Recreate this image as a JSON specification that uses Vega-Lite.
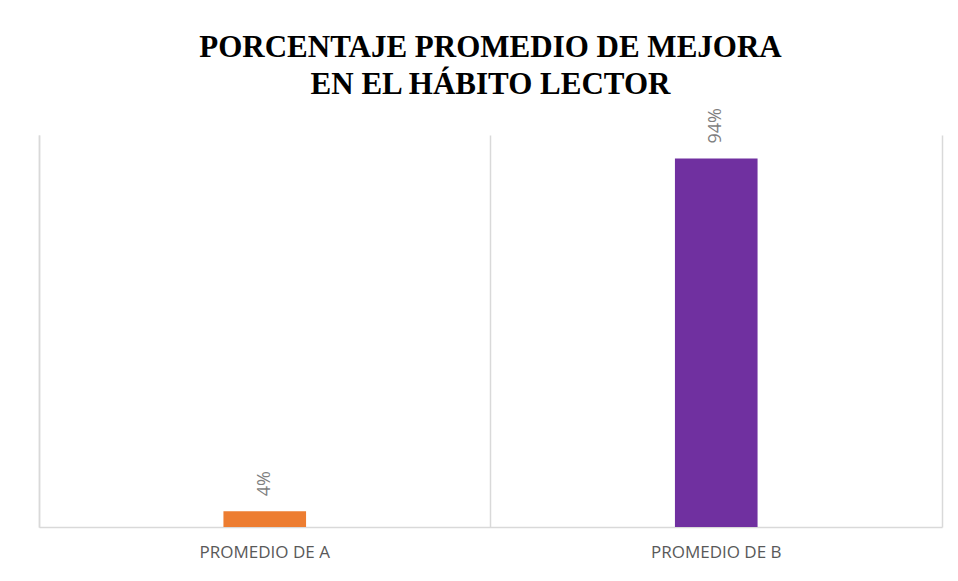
{
  "$schema": "https://vega.github.io/schema/vega-lite/v6.json",
  "width": 903,
  "height": 392,
  "autosize": {"type": "none"},
  "padding": {"left": 39, "top": 135, "right": 16, "bottom": 54},
  "background": "white",
  "title": {
    "text": ["PORCENTAJE PROMEDIO DE MEJORA", "EN EL HÁBITO LECTOR"],
    "font": "Liberation Serif",
    "fontSize": 31,
    "fontWeight": "bold",
    "color": "#000000",
    "lineHeight": 37,
    "anchor": "middle",
    "frame": "group",
    "offset": 7
  },
  "data": {
    "values": [
      {"categoria": "PROMEDIO DE A", "valor": 0.04},
      {"categoria": "PROMEDIO DE B", "valor": 0.94}
    ]
  },
  "encoding": {
    "x": {
      "field": "categoria",
      "type": "nominal",
      "sort": null,
      "scale": {"paddingInner": 0, "paddingOuter": 0},
      "axis": {
        "title": null,
        "labelAngle": 0,
        "labelFont": "Open Sans",
        "labelFontSize": 17,
        "labelColor": "#595959",
        "labelPadding": 17,
        "ticks": false,
        "domain": true,
        "domainColor": "#d9d9d9",
        "domainWidth": 1.5,
        "grid": true,
        "gridColor": "#d9d9d9",
        "gridWidth": 1.5,
        "bandPosition": 0
      }
    },
    "y": {
      "field": "valor",
      "type": "quantitative",
      "scale": {"domain": [0, 1], "nice": false}
    }
  },
  "layer": [
    {
      "mark": {"type": "bar", "width": {"band": 0.183}},
      "encoding": {
        "y": {
          "field": "valor",
          "type": "quantitative",
          "scale": {"domain": [0, 1], "nice": false},
          "axis": {
            "title": null,
            "labels": false,
            "ticks": false,
            "grid": false,
            "domain": true,
            "domainColor": "#d9d9d9",
            "domainWidth": 1.5,
            "orient": "left"
          }
        },
        "color": {
          "field": "categoria",
          "type": "nominal",
          "scale": {"domain": ["PROMEDIO DE A", "PROMEDIO DE B"], "range": ["#ED7D31", "#7030A0"]},
          "legend": null
        }
      }
    },
    {
      "mark": {
        "type": "text",
        "angle": 270,
        "align": "left",
        "baseline": "middle",
        "dx": 15,
        "font": "Open Sans",
        "fontSize": 18,
        "color": "#7f7f7f"
      },
      "encoding": {
        "y": {
          "field": "valor",
          "type": "quantitative",
          "scale": {"domain": [0, 1], "nice": false},
          "axis": {
            "title": null,
            "labels": false,
            "ticks": false,
            "grid": false,
            "domain": true,
            "domainColor": "#d9d9d9",
            "domainWidth": 1.5,
            "orient": "right"
          }
        },
        "text": {"field": "valor", "type": "quantitative", "format": ".0%"}
      }
    }
  ],
  "resolve": {"axis": {"y": "independent"}},
  "config": {"view": {"stroke": null}}
}
